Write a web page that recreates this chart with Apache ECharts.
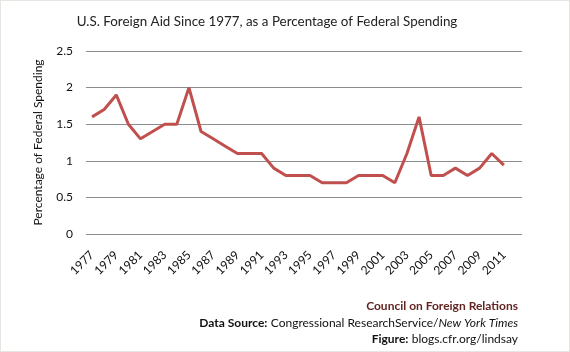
<!DOCTYPE html>
<html>
<head>
<meta charset="utf-8">
<script src="https://cdn.jsdelivr.net/npm/echarts@6/dist/echarts.min.js"></script>
<style>
  html, body { margin: 0; padding: 0; background: #fff; }
  #chart { width: 570px; height: 352px; box-sizing: border-box; border: 1px solid #e6e6e0; }
</style>
</head>
<body>
<div id="chart"></div>
<script>
// years 1977-2012 (2012 has no value, keeps the last slot empty)
var years = [];
for (var y = 1977; y <= 2012; y++) years.push(String(y));

var aidPct = [1.6, 1.7, 1.9, 1.5, 1.3, 1.4, 1.5, 1.5, 2.0, 1.4,
              1.3, 1.2, 1.1, 1.1, 1.1, 0.9, 0.8, 0.8, 0.8, 0.7,
              0.7, 0.7, 0.8, 0.8, 0.8, 0.7, 1.1, 1.6, 0.8, 0.8,
              0.9, 0.8, 0.9, 1.1, 0.94, null];

var titleText = 'U.S. Foreign Aid Since 1977, as a Percentage of Federal Spending';
var yName = 'Percentage of Federal Spending';

var font = 'Lato, "Open Sans", sans-serif';

var myChart = echarts.init(document.getElementById('chart'));
myChart.setOption({
  animation: false,
  title: {
    text: titleText,
    left: 261,
    textAlign: 'center',
    top: 9,
    textStyle: { fontFamily: font, fontSize: 13.4, fontWeight: 'normal', color: '#222' }
  },
  grid: { left: 85, right: 47, top: 50, bottom: 117 },
  xAxis: {
    type: 'category',
    data: years,
    boundaryGap: true,
    axisLine: { show: false },
    axisTick: { show: false },
    axisLabel: {
      interval: 1,
      rotate: 45,
      margin: 19,
      fontFamily: font,
      fontSize: 12,
      color: '#111'
    }
  },
  yAxis: {
    type: 'value',
    min: 0,
    max: 2.5,
    interval: 0.5,
    name: yName,
    nameLocation: 'middle',
    nameGap: 42,
    nameTextStyle: { fontFamily: font, fontSize: 12, color: '#111' },
    axisLine: { show: false },
    axisTick: { show: false },
    axisLabel: { fontFamily: font, fontSize: 12, color: '#111', margin: 13 },
    splitLine: { lineStyle: { color: '#8c8c8c', width: 1 } }
  },
  series: [{
    type: 'line',
    data: aidPct,
    symbol: 'none',
    lineStyle: { color: '#c0504d', width: 3 },
    itemStyle: { color: '#c0504d' }
  }],
  graphic: [{
    type: 'text',
    right: 51,
    top: 299,
    style: {
      text: '{red|Council on Foreign Relations}',
      align: 'right',
      rich: { red: { fontFamily: font, fontSize: 12, fontWeight: 'bold', fill: '#632523' } }
    }
  }, {
    type: 'text',
    right: 51,
    top: 316,
    style: {
      text: '{b|Data Source:} {n|Congressional ResearchService/}{i|New York Times}',
      rich: {
        b: { fontFamily: font, fontSize: 12, fontWeight: 'bold', fill: '#111' },
        n: { fontFamily: font, fontSize: 12, fill: '#111' },
        i: { fontFamily: font, fontSize: 12, fontStyle: 'italic', fill: '#111' }
      }
    }
  }, {
    type: 'text',
    right: 51,
    top: 332,
    style: {
      text: '{b|Figure:} {n|blogs.cfr.org/lindsay}',
      rich: {
        b: { fontFamily: font, fontSize: 12, fontWeight: 'bold', fill: '#111' },
        n: { fontFamily: font, fontSize: 12, fill: '#111' }
      }
    }
  }]
});
</script>
</body>
</html>
